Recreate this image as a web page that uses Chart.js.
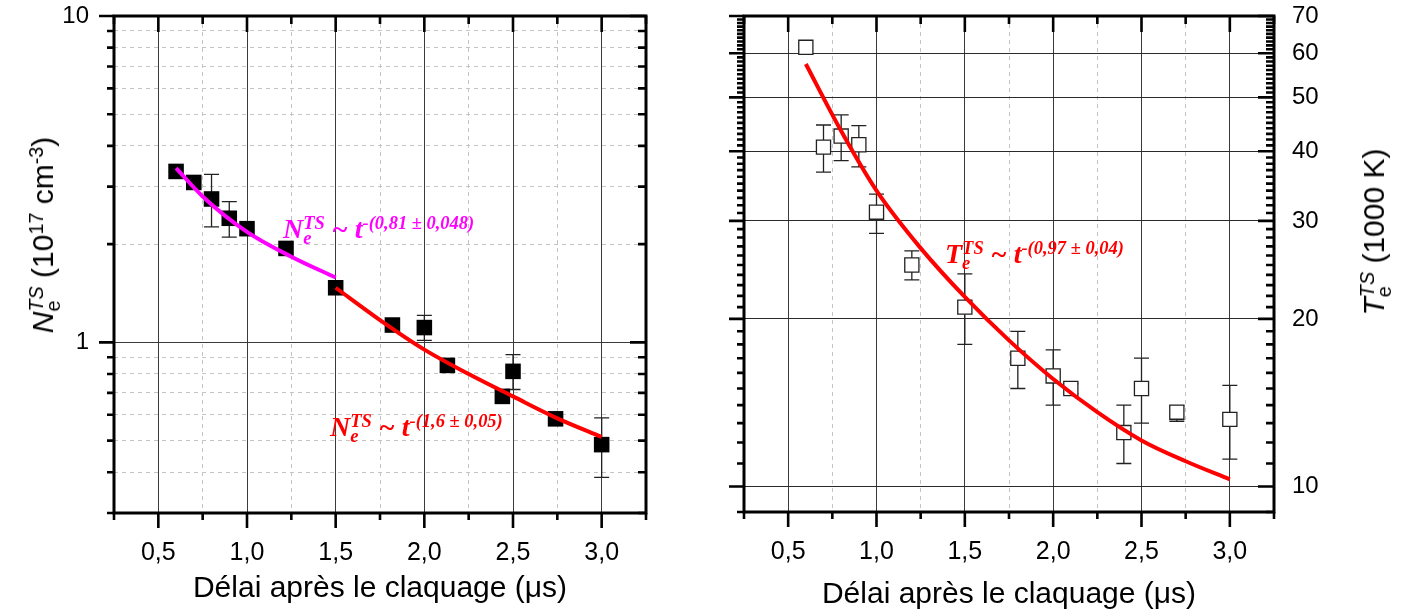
<!DOCTYPE html>
<html>
<head>
<meta charset="utf-8">
<script src="https://cdn.jsdelivr.net/npm/chart.js@4.4.1/dist/chart.umd.min.js"></script>
<style>
  body { margin: 0; background: #fff; }
  #wrap { position: relative; width: 1404px; height: 611px; overflow: hidden; font-family: "Liberation Sans", Arial, sans-serif; }
  canvas { position: absolute; top: 0; }
  #c1 { left: 0; }
  #c2 { left: 700px; }
  .xt { position: absolute; font-size: 30px; line-height: 1; white-space: nowrap; transform: translateX(-50%); }
  .yt { position: absolute; font-size: 30px; line-height: 1; white-space: nowrap; transform: translate(-50%, -50%) rotate(-90deg); }
  .eq { position: absolute; white-space: nowrap; font-family: "Liberation Serif", "Times New Roman", serif;
        font-weight: bold; font-style: italic; font-size: 28px; line-height: 1; }
  .st { position: relative; display: inline-block; font-size: 0.66em; line-height: 1; }
  .st .up { position: relative; top: -0.5em; }
  .st .dn { position: absolute; left: 0; top: 0.35em; }
  .sp { position: relative; top: -0.5em; font-size: 0.66em; }
  .yt i { font-style: italic; }
</style>
</head>
<body>
<div id="wrap">
  <canvas id="c1" width="700" height="611"></canvas>
  <canvas id="c2" width="704" height="611"></canvas>

  <div class="xt" style="left:380px; top:572px;">Délai après le claquage (μs)</div>
  <div class="xt" style="left:1009px; top:578px;">Délai après le claquage (μs)</div>

  <div class="yt" style="left:43px; top:235px;"><i>N</i><span class="st"><span class="up"><i>TS</i></span><span class="dn">e</span></span> (10<span class="sp">17</span> cm<span class="sp">-3</span>)</div>
  <div class="yt" style="left:1374px; top:232px;"><i>T</i><span class="st"><span class="up"><i>TS</i></span><span class="dn">e</span></span> (1000 K)</div>

  <div class="eq" style="left:283px; top:215px; color:#ff00ff;">N<span class="st"><span class="up">TS</span><span class="dn">e</span></span> ~ t<span class="sp">-(0,81 ± 0,048)</span></div>
  <div class="eq" style="left:330px; top:413px; color:#ff0000;">N<span class="st"><span class="up">TS</span><span class="dn">e</span></span> ~ t<span class="sp">-(1,6 ± 0,05)</span></div>
  <div class="eq" style="left:945px; top:240px; color:#ff0000;">T<span class="st"><span class="up">TS</span><span class="dn">e</span></span> ~ t<span class="sp">-(0,97 ± 0,04)</span></div>
</div>

<script>
// axes
const xTicks = [0.25, 0.5, 0.75, 1.0, 1.25, 1.5, 1.75, 2.0, 2.25, 2.5, 2.75, 3.0, 3.25]
const xLabelVals = [0.5, 1.0, 1.5, 2.0, 2.5, 3.0]
const xLabels = ['0,5', '1,0', '1,5', '2,0', '2,5', '3,0']

const neTicks = [0.3, 0.4, 0.5, 0.6, 0.7, 0.8, 0.9, 1, 2, 3, 4, 5, 6, 7, 8, 9, 10]
const neMajor = [1, 10]
const neLabels = ['1', '10']

const teTicks = [9, 10, 20, 30, 40, 50, 60, 70]
const teMajor = [10, 20, 30, 40, 50, 60, 70]
const teLabels = ['10', '20', '30', '40', '50', '60', '70']
const teMinor = [9]
for (let d = 10; d < 70; d += 10) {
    for (let k = 1; k < 10; k++) teMinor.push(d + k)
}

// densite electronique (gauche)
const neX  = [0.6, 0.7, 0.8, 0.9, 1.0, 1.22, 1.5, 1.82, 2.0, 2.13, 2.44, 2.5, 2.74, 3.0]
const neY  = [3.34, 3.09, 2.75, 2.40, 2.23, 1.94, 1.47, 1.13, 1.11, 0.85, 0.683, 0.815, 0.583, 0.486]
const neHi = [null, null, 3.27, 2.70, null, null, null, null, 1.21, null, null, 0.917, null, 0.587]
const neLo = [null, null, 2.26, 2.10, null, null, null, null, 1.014, null, null, 0.717, null, 0.386]

const fitMagX = [0.6, 0.75, 1.0, 1.25, 1.5]
const fitMagY = [3.42, 2.80, 2.18, 1.83, 1.58]
const fitNeX  = [1.5, 1.75, 2.0, 2.25, 2.5, 2.75, 3.0]
const fitNeY  = [1.47, 1.17, 0.95, 0.80, 0.683, 0.585, 0.513]

// temperature electronique (droite)
const teX  = [0.6, 0.7, 0.8, 0.9, 1.0, 1.2, 1.5, 1.8, 2.0, 2.1, 2.4, 2.5, 2.7, 3.0]
const teY  = [61.5, 40.7, 42.6, 41.1, 31.1, 25.0, 21.0, 17.0, 15.8, 15.0, 12.5, 15.0, 13.6, 13.2]
const teHi = [null, 44.6, 46.5, 44.5, 33.5, 26.5, 24.1, 19.0, 17.6, 15.3, 14.0, 17.0, 13.97, 15.2]
const teLo = [null, 36.7, 38.5, 37.5, 28.5, 23.5, 18.0, 15.0, 14.0, 14.7, 11.0, 13.0, 13.1, 11.2]

const fitTeX = [0.6, 0.8, 1.0, 1.25, 1.5, 1.75, 2.0, 2.25, 2.5, 2.75, 3.0]
const fitTeY = [57.4, 43.5, 34.0, 26.8, 21.9, 18.3, 15.6, 13.6, 12.1, 11.1, 10.3]

const pts = (xs, ys) => xs.map((x, i) => ({ x: x, y: ys[i] }))
const isHalf = v => Math.abs(v * 2 - Math.round(v * 2)) < 1e-9
const FAMILY = '"Liberation Sans", Arial, sans-serif'

function decor(o) {
    return {
        id: 'decor',
        beforeDatasetsDraw(chart) {
            const ctx = chart.ctx, xs = chart.scales.x, ys = chart.scales.y
            ctx.save()
            ctx.strokeStyle = '#222'
            ctx.lineWidth = 1.3
            o.ex.forEach((xv, i) => {
                if (o.hi[i] == null) return
                const px = xs.getPixelForValue(xv)
                const h = ys.getPixelForValue(o.hi[i])
                const l = ys.getPixelForValue(o.lo[i])
                ctx.beginPath()
                ctx.moveTo(px, h); ctx.lineTo(px, l)
                ctx.moveTo(px - 7.5, h); ctx.lineTo(px + 7.5, h)
                ctx.moveTo(px - 7.5, l); ctx.lineTo(px + 7.5, l)
                ctx.stroke()
            })
            ctx.restore()
        },
        afterDraw(chart) {
            const ctx = chart.ctx, a = chart.chartArea, xs = chart.scales.x, ys = chart.scales.y
            ctx.save()
            ctx.strokeStyle = '#000'
            ctx.lineWidth = 2.6
            ctx.beginPath()
            xTicks.forEach(v => {
                const px = xs.getPixelForValue(v)
                const big = isHalf(v)
                ctx.moveTo(px, a.bottom); ctx.lineTo(px, a.bottom + (big ? 15 : 7))
                ctx.moveTo(px, a.top); ctx.lineTo(px, a.top + (big ? 16 : 8))
            })
            o.yMaj.forEach(v => {
                const py = ys.getPixelForValue(v)
                ctx.moveTo(a.left, py); ctx.lineTo(a.left - 15, py)
                ctx.moveTo(a.right, py); ctx.lineTo(a.right - 16, py)
            })
            o.yMin.forEach(v => {
                const py = ys.getPixelForValue(v)
                ctx.moveTo(a.left, py); ctx.lineTo(a.left - 7, py)
                ctx.moveTo(a.right, py); ctx.lineTo(a.right - 8, py)
            })
            ctx.stroke()
            ctx.lineWidth = 3
            ctx.strokeRect(a.left, a.top, a.right - a.left, a.bottom - a.top)
            ctx.restore()
        }
    }
}

function xScale(h) {
    return {
        type: 'linear', min: 0.25, max: 3.25,
        afterBuildTicks: s => { s.ticks = xTicks.map(v => ({ value: v })) },
        afterFit: s => { s.height = h; s.paddingLeft = 0; s.paddingRight = 0 },
        ticks: {
            autoSkip: false, maxRotation: 0, padding: 25, color: '#000',
            font: { family: FAMILY, size: 25 },
            callback: v => {
                const i = xLabelVals.findIndex(k => Math.abs(k - v) < 1e-9)
                return i >= 0 ? xLabels[i] : ''
            }
        },
        grid: {
            drawTicks: false, lineWidth: 1,
            color: c => (c.tick && isHalf(c.tick.value)) ? '#3a3a3a' : '#c4c4c4'
        },
        border: { display: false, dash: c => (c.tick && !isHalf(c.tick.value)) ? [4, 4] : [] }
    }
}

// panneau gauche
new Chart(document.getElementById('c1'), {
    type: 'scatter',
    data: {
        datasets: [
            { type: 'line', data: pts(fitMagX, fitMagY), borderColor: '#ff00ff', borderWidth: 4,
              pointRadius: 0, cubicInterpolationMode: 'monotone', order: 1 },
            { type: 'line', data: pts(fitNeX, fitNeY), borderColor: '#ff0000', borderWidth: 4,
              pointRadius: 0, cubicInterpolationMode: 'monotone', order: 1 },
            { data: pts(neX, neY), pointStyle: 'rect', pointRadius: 11, backgroundColor: '#000',
              borderColor: '#000', borderWidth: 0, order: 2 }
        ]
    },
    options: {
        responsive: false, animation: false, devicePixelRatio: 1,
        layout: { padding: { left: 0, right: 54, top: 16, bottom: 0 } },
        plugins: { legend: { display: false }, tooltip: { enabled: false } },
        scales: {
            x: xScale(98),
            y: {
                type: 'logarithmic', min: 0.3, max: 10,
                afterBuildTicks: s => { s.ticks = neTicks.map(v => ({ value: v })) },
                afterFit: s => { s.width = 114; s.paddingTop = 0; s.paddingBottom = 0 },
                ticks: {
                    autoSkip: false, padding: 25, color: '#000', font: { family: FAMILY, size: 24 },
                    callback: v => {
                        const i = neMajor.indexOf(v)
                        return i >= 0 ? neLabels[i] : ''
                    }
                },
                grid: {
                    drawTicks: false, lineWidth: 1,
                    color: c => (c.tick && c.tick.value === 1) ? '#3a3a3a' : '#c4c4c4'
                },
                border: { display: false, dash: c => (c.tick && c.tick.value !== 1) ? [4, 4] : [] }
            }
        }
    },
    plugins: [decor({
        ex: neX, hi: neHi, lo: neLo,
        yMaj: neMajor, yMin: neTicks.filter(v => !neMajor.includes(v))
    })]
})

// panneau droit
new Chart(document.getElementById('c2'), {
    type: 'scatter',
    data: {
        datasets: [
            { type: 'line', data: pts(fitTeX, fitTeY), borderColor: '#ff0000', borderWidth: 4,
              pointRadius: 0, cubicInterpolationMode: 'monotone', order: 1 },
            { data: pts(teX, teY), pointStyle: 'rect', pointRadius: 10, backgroundColor: '#fff',
              borderColor: '#222', borderWidth: 1.3, order: 2 }
        ]
    },
    options: {
        responsive: false, animation: false, devicePixelRatio: 1,
        layout: { padding: { left: 44, right: 0, top: 16, bottom: 0 } },
        plugins: { legend: { display: false }, tooltip: { enabled: false } },
        scales: {
            x: xScale(99),
            y: {
                type: 'logarithmic', position: 'right', min: 9, max: 70,
                afterBuildTicks: s => { s.ticks = teTicks.map(v => ({ value: v })) },
                afterFit: s => { s.width = 130; s.paddingTop = 0; s.paddingBottom = 0 },
                ticks: {
                    autoSkip: false, padding: 18, color: '#000', font: { family: FAMILY, size: 24 },
                    callback: v => {
                        const i = teMajor.indexOf(v)
                        return i >= 0 ? teLabels[i] : ''
                    }
                },
                grid: {
                    drawTicks: false, lineWidth: 1,
                    color: c => (c.tick && c.tick.value !== 9) ? '#2a2a2a' : 'rgba(0,0,0,0)'
                },
                border: { display: false }
            }
        }
    },
    plugins: [decor({
        ex: teX, hi: teHi, lo: teLo,
        yMaj: teMajor, yMin: teMinor
    })]
})
</script>
</body>
</html>
